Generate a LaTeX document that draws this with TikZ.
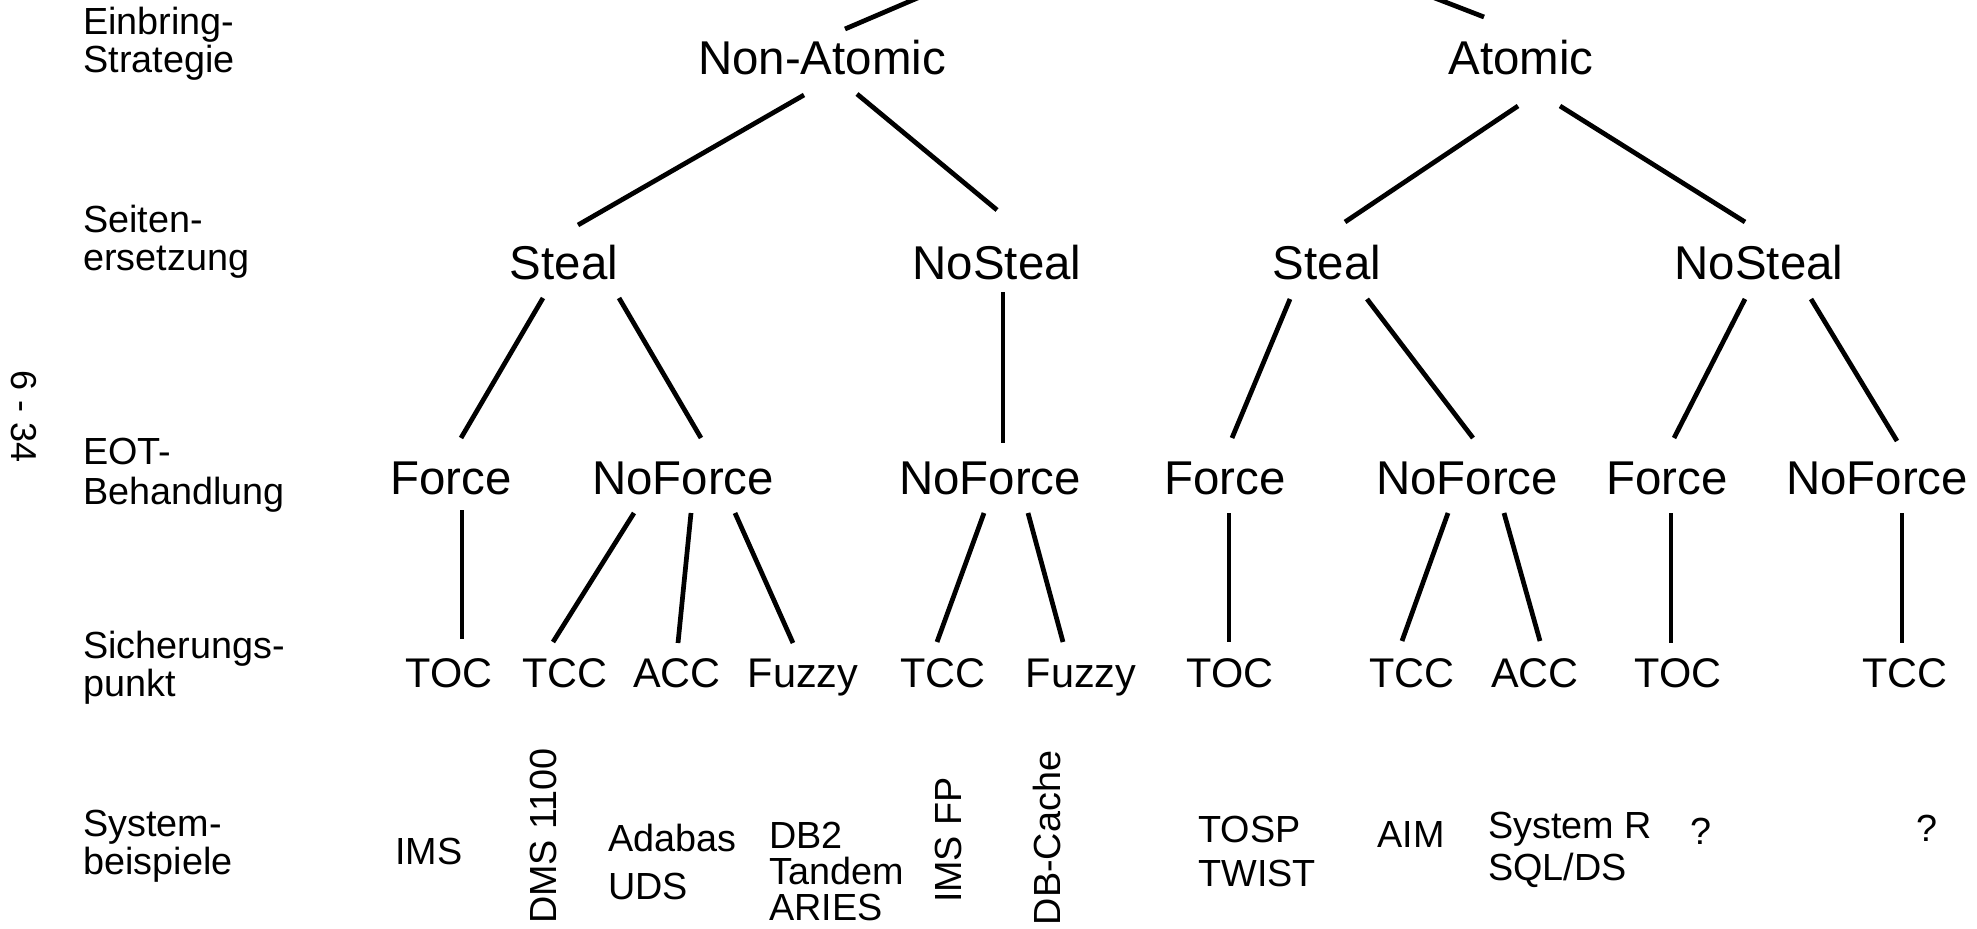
\documentclass[tikz,border=0pt]{standalone}
\usepackage{fontspec}
\setmainfont{Liberation Sans}
\usetikzlibrary{calc}

\tikzset{
  strat/.style={font=\fontsize{27}{30}\selectfont, inner sep=0pt, anchor=base},
  punkt/.style={font=\fontsize{23.6}{26}\selectfont, inner sep=0pt, anchor=base},
  rand/.style={font=\fontsize{21.5}{#1}\selectfont, inner sep=0pt, anchor=north west, align=left},
  rand/.default=21.6,
  kante/.style={line width=2.7pt}
}

\begin{document}
\begin{tikzpicture}[x=0.02cm, y=-0.02cm]
    \useasboundingbox (0,0) rectangle (1977,929);
    \clip (0,0) rectangle (1977,929);

    \node[font=\fontsize{20.5}{20.5}\selectfont, rotate=-90, inner sep=0pt] (seite) at (24,417) {6 - 34};

    % Ebenen links
    \node[rand] (ebs) at (83,7) {Einbring-\\Strategie};
    \node[rand] (ser) at (83,205) {Seiten-\\ersetzung};
    \node[rand=22.5] (eot) at (83,438) {EOT-\\Behandlung};
    \node[rand] (sip) at (83,631) {Sicherungs-\\punkt};
    \node[rand] (syb) at (83,810) {System-\\beispiele};

    \coordinate (wurzel) at (1163,-107);
    \node[strat] (na) at (822,75) {Non-Atomic};
    \node[strat] (at) at (1521,75) {Atomic};

    \node[strat] (st1) at (564,279) {Steal};
    \node[strat] (ns1) at (997,279) {NoSteal};
    \node[strat] (st2) at (1327,279) {Steal};
    \node[strat] (ns2) at (1759,279) {NoSteal};

    \node[strat] (fo1) at (451,494) {Force};
    \node[strat] (nf1) at (683,494) {NoForce};
    \node[strat] (nf2) at (990,494) {NoForce};
    \node[strat] (fo2) at (1225,494) {Force};
    \node[strat] (nf3) at (1467,494) {NoForce};
    \node[strat] (fo3) at (1667,494) {Force};
    \node[strat] (nf4) at (1877,494) {NoForce};

    \node[punkt] (toc1) at (449,687) {TOC};
    \node[punkt] (tcc1) at (565,687) {TCC};
    \node[punkt] (acc1) at (677,687) {ACC};
    \node[punkt] (fuz1) at (803,687) {Fuzzy};
    \node[punkt] (tcc2) at (943,687) {TCC};
    \node[punkt] (fuz2) at (1081,687) {Fuzzy};
    \node[punkt] (toc2) at (1230,687) {TOC};
    \node[punkt] (tcc3) at (1412,687) {TCC};
    \node[punkt] (acc2) at (1535,687) {ACC};
    \node[punkt] (toc3) at (1678,687) {TOC};
    \node[punkt] (tcc4) at (1905,687) {TCC};

    % Systembeispiele
    \node[rand] (ims) at (395,838) {IMS};
    \node[rand, rotate=90, anchor=center] (dms) at (543,836) {DMS 1100};
    \node[rand=27.3] (ada) at (608,824) {Adabas\\UDS};
    \node[rand=20.5] (db2) at (769,822) {DB2\\Tandem\\ARIES};
    \node[rand, rotate=90, anchor=center] (imsfp) at (948,840) {IMS FP};
    \node[rand, rotate=90, anchor=center] (dbc) at (1047,838) {DB-Cache};
    \node[rand=25] (tosp) at (1198,816) {TOSP\\TWIST};
    \node[rand] (aim) at (1377,821) {AIM};
    \node[rand=24] (sysr) at (1488,812) {System R\\SQL/DS};
    \node[rand] (fr1) at (1690,818) {?};
    \node[rand] (fr2) at (1916,815) {?};

    \draw[kante] ($(na.base)+(23,-46)$) -- (wurzel);
    \draw[kante] ($(at.base)+(-37,-58)$) -- (wurzel);

    \draw[kante] ($(na.base)+(-18,20)$) -- ($(st1.base)+(14,-54)$);
    \draw[kante] ($(na.base)+(35,19)$) -- ($(ns1.base)+(0,-69)$);
    \draw[kante] ($(at.base)+(-3,31)$) -- ($(st2.base)+(18,-57)$);
    \draw[kante] ($(at.base)+(39,31)$) -- ($(ns2.base)+(-14,-57)$);

    \draw[kante] ($(st1.base)+(-21,19)$) -- ($(fo1.base)+(10,-56)$);
    \draw[kante] ($(st1.base)+(55,19)$) -- ($(nf1.base)+(18,-56)$);
    \draw[kante] ($(ns1.base)+(6,13)$) -- ($(nf2.base)+(13,-51)$);
    \draw[kante] ($(st2.base)+(-37,20)$) -- ($(fo2.base)+(7,-56)$);
    \draw[kante] ($(st2.base)+(40,20)$) -- ($(nf3.base)+(6,-56)$);
    \draw[kante] ($(ns2.base)+(-14,20)$) -- ($(fo3.base)+(7,-56)$);
    \draw[kante] ($(ns2.base)+(52,20)$) -- ($(nf4.base)+(20,-53)$);

    \draw[kante] ($(fo1.base)+(11,16)$) -- ($(toc1.base)+(13,-48)$);
    \draw[kante] ($(nf1.base)+(-49,19)$) -- ($(tcc1.base)+(-12,-45)$);
    \draw[kante] ($(nf1.base)+(8,19)$) -- ($(acc1.base)+(1,-44)$);
    \draw[kante] ($(nf1.base)+(52,19)$) -- ($(fuz1.base)+(-10,-44)$);
    \draw[kante] ($(nf2.base)+(-6,19)$) -- ($(tcc2.base)+(-6,-45)$);
    \draw[kante] ($(nf2.base)+(38,19)$) -- ($(fuz2.base)+(-18,-45)$);
    \draw[kante] ($(fo2.base)+(4,19)$) -- ($(toc2.base)+(-1,-45)$);
    \draw[kante] ($(nf3.base)+(-19,19)$) -- ($(tcc3.base)+(-10,-46)$);
    \draw[kante] ($(nf3.base)+(37,19)$) -- ($(acc2.base)+(5,-46)$);
    \draw[kante] ($(fo3.base)+(4,19)$) -- ($(toc3.base)+(-7,-44)$);
    \draw[kante] ($(nf4.base)+(25,19)$) -- ($(tcc4.base)+(-3,-44)$);
\end{tikzpicture}
\end{document}
